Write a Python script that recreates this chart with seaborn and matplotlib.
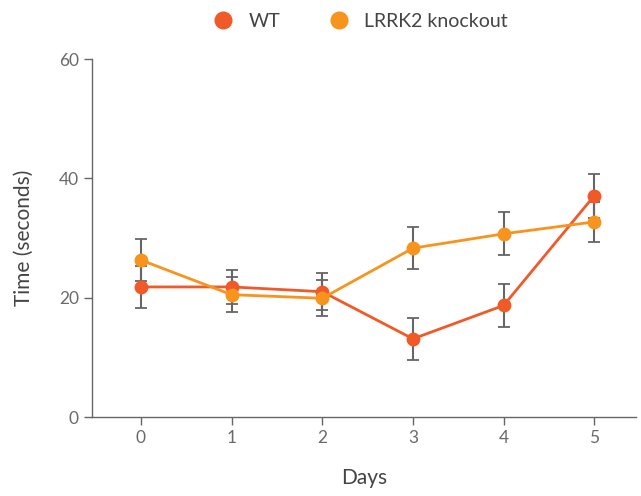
import matplotlib
matplotlib.use("Agg")
import matplotlib.pyplot as plt
import seaborn as sns
import pandas as pd
from matplotlib.lines import Line2D

days = [0, 1, 2, 3, 4, 5]
wt_mean = [21.8, 21.8, 21.0, 13.1, 18.7, 37.1]
wt_err = [3.5, 2.9, 3.1, 3.5, 3.6, 3.7]
ko_mean = [26.3, 20.5, 19.9, 28.3, 30.7, 32.7]
ko_err = [3.5, 2.9, 3.0, 3.5, 3.6, 3.4]
series_names = ["WT", "LRRK2 knockout"]
colors = ["#f05a28", "#f7941d"]
y_ticks = [0, 20, 40, 60]

df = pd.DataFrame({
    "Days": days * 2,
    "Time": wt_mean + ko_mean,
    "err": wt_err + ko_err,
    "group": [series_names[0]] * len(days) + [series_names[1]] * len(days),
})

sns.set_theme(style="ticks")
plt.rcParams["font.family"] = ["Lato", "DejaVu Sans"]
text_color = "#444444"
axis_color = "#666666"

fig = plt.figure(figsize=(6.41, 4.96), dpi=100)
ax = fig.add_axes([92/641, 1 - 417/496, (636 - 92)/641, (417 - 59)/496])

for name in series_names:
    sub = df[df["group"] == name]
    ax.errorbar(sub["Days"], sub["Time"], yerr=sub["err"], fmt="none",
                ecolor="#666666", elinewidth=1.5, capsize=4, capthick=1.3, zorder=2)

sns.lineplot(data=df, x="Days", y="Time", hue="group", palette=colors,
             marker="o", markersize=10, markeredgewidth=0, linewidth=2,
             ax=ax, zorder=3, legend=False)

ax.set_xlim(-0.54, 5.46)
ax.set_ylim(0, 60)
ax.set_xticks(days)
ax.set_yticks(y_ticks)
ax.set_xlabel("Days", fontsize=15, color=text_color, labelpad=16)
ax.set_ylabel("Time (seconds)", fontsize=15, color=text_color, labelpad=18)
ax.tick_params(axis="both", labelsize=12.5, colors=axis_color, labelcolor="#6a6a6a",
               length=6, width=1)
for s in ["top", "right"]:
    ax.spines[s].set_visible(False)
for s in ["left", "bottom"]:
    ax.spines[s].set_color(axis_color)
    ax.spines[s].set_linewidth(1)

handles = [Line2D([0], [0], marker="o", linestyle="none", markersize=13,
                  markerfacecolor=c, markeredgewidth=0) for c in colors]
fig.legend(handles, series_names, loc="upper center", bbox_to_anchor=(0.555, 1.01),
           ncol=2, frameon=False, fontsize=14, labelcolor=text_color,
           handletextpad=0.3, columnspacing=2.0)

fig.savefig("out.png", dpi=100)
